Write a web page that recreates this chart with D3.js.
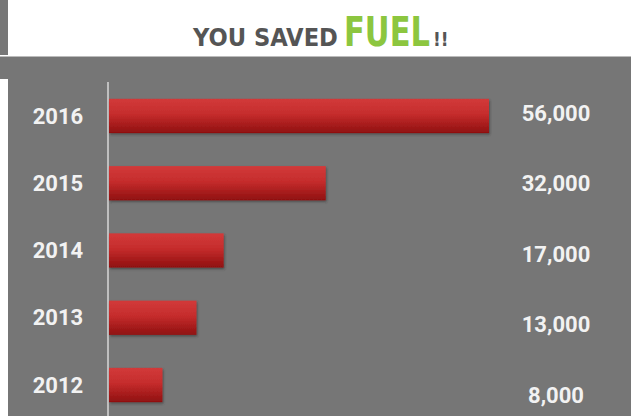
<!DOCTYPE html>
<html>
<head>
<meta charset="utf-8">
<script src="https://cdn.jsdelivr.net/npm/d3@7"></script>
<style>
  body { margin: 0; background: #fff; }
  svg { display: block; }
</style>
</head>
<body>
<svg id="chart"></svg>
<script>
let years = ['2016', '2015', '2014', '2013', '2012']
let values = [56000, 32000, 17000, 13000, 8000]
let valueLabels = ['56,000', '32,000', '17,000', '13,000', '8,000']

let width = 631
let height = 416

let svg = d3.select('#chart')
  .attr('width', width)
  .attr('height', height)

let defs = svg.append('defs')
let grad = defs.append('linearGradient')
  .attr('id', 'barGrad')
  .attr('x1', 0).attr('y1', 0).attr('x2', 0).attr('y2', 1)
grad.append('stop').attr('offset', '0%').attr('stop-color', '#d23a3a')
grad.append('stop').attr('offset', '45%').attr('stop-color', '#c52c2c')
grad.append('stop').attr('offset', '100%').attr('stop-color', '#8f1010')

let shadow = defs.append('filter').attr('id', 'shadow')
  .attr('x', '-5%').attr('y', '-20%').attr('width', '115%').attr('height', '150%')
shadow.append('feDropShadow')
  .attr('dx', 1).attr('dy', 1.5).attr('stdDeviation', 1.2)
  .attr('flood-color', '#333').attr('flood-opacity', 0.6)

// background pieces
svg.append('rect').attr('x', 0).attr('y', 0).attr('width', 8).attr('height', 55).attr('fill', '#777')
svg.append('rect').attr('x', 0).attr('y', 57).attr('width', width).attr('height', 22).attr('fill', '#767676')
svg.append('rect').attr('x', 8).attr('y', 57).attr('width', width - 8).attr('height', height - 57).attr('fill', '#767676')
svg.append('line').attr('x1', 0).attr('x2', width).attr('y1', 56.5).attr('y2', 56.5)
  .attr('stroke', '#bbb').attr('stroke-width', 1)

// title, three pieces squeezed to the reference widths
let titleFont = '"DejaVu Sans Condensed", "DejaVu Sans", sans-serif'
let addTitlePart = (txt, x, size, color, targetW) => {
  let t = svg.append('text')
    .attr('y', 0)
    .style('font-family', titleFont)
    .style('font-weight', 'bold')
    .style('font-size', size + 'px')
    .attr('fill', color)
    .text(txt)
  let natural = t.node().getComputedTextLength()
  let k = targetW ? targetW / natural : 1
  t.attr('transform', 'translate(' + x + ',46) scale(' + k + ',1)')
  return natural * k
}
addTitlePart('YOU SAVED', 193, 25, '#555', 145)
let fuelW = addTitlePart('FUEL', 344, 40, '#8cc63f', 86)
addTitlePart('!!', 344 + fuelW + 3, 19, '#555', null)

let xScale = d3.scaleLinear()
  .domain([0, 56000])
  .range([108, 489])

let yScale = d3.scaleBand()
  .domain(years)
  .range([82, 419])
  .paddingInner(0.49)
  .paddingOuter(0.25)

let labelScale = d3.scalePoint()
  .domain(years)
  .range([113, 395])

// axis line
svg.append('line')
  .attr('x1', xScale(0)).attr('x2', xScale(0))
  .attr('y1', 82).attr('y2', height)
  .attr('stroke', '#d8d8d8').attr('stroke-width', 1.5)

svg.selectAll('.bar')
  .data(values)
  .enter()
  .append('rect')
  .attr('class', 'bar')
  .attr('x', xScale(0) + 1)
  .attr('y', (d, i) => yScale(years[i]))
  .attr('width', (d) => xScale(d) - xScale(0) - 1)
  .attr('height', yScale.bandwidth())
  .attr('fill', 'url(#barGrad)')
  .attr('filter', 'url(#shadow)')

svg.selectAll('.year')
  .data(years)
  .enter()
  .append('text')
  .attr('class', 'year')
  .attr('x', 58)
  .attr('y', (d) => yScale(d) + yScale.bandwidth() / 2)
  .attr('dy', '0.35em')
  .attr('text-anchor', 'middle')
  .attr('fill', '#f2f2f2')
  .style('font-family', 'Roboto, sans-serif')
  .style('font-weight', 'bold')
  .style('font-size', '22px')
  .text((d) => d)

svg.selectAll('.val')
  .data(valueLabels)
  .enter()
  .append('text')
  .attr('class', 'val')
  .attr('x', 556)
  .attr('y', (d, i) => labelScale(years[i]))
  .attr('dy', '0.35em')
  .attr('text-anchor', 'middle')
  .attr('fill', '#f2f2f2')
  .style('font-family', 'Roboto, sans-serif')
  .style('font-weight', 'bold')
  .style('font-size', '22px')
  .text((d) => d)
</script>
</body>
</html>
